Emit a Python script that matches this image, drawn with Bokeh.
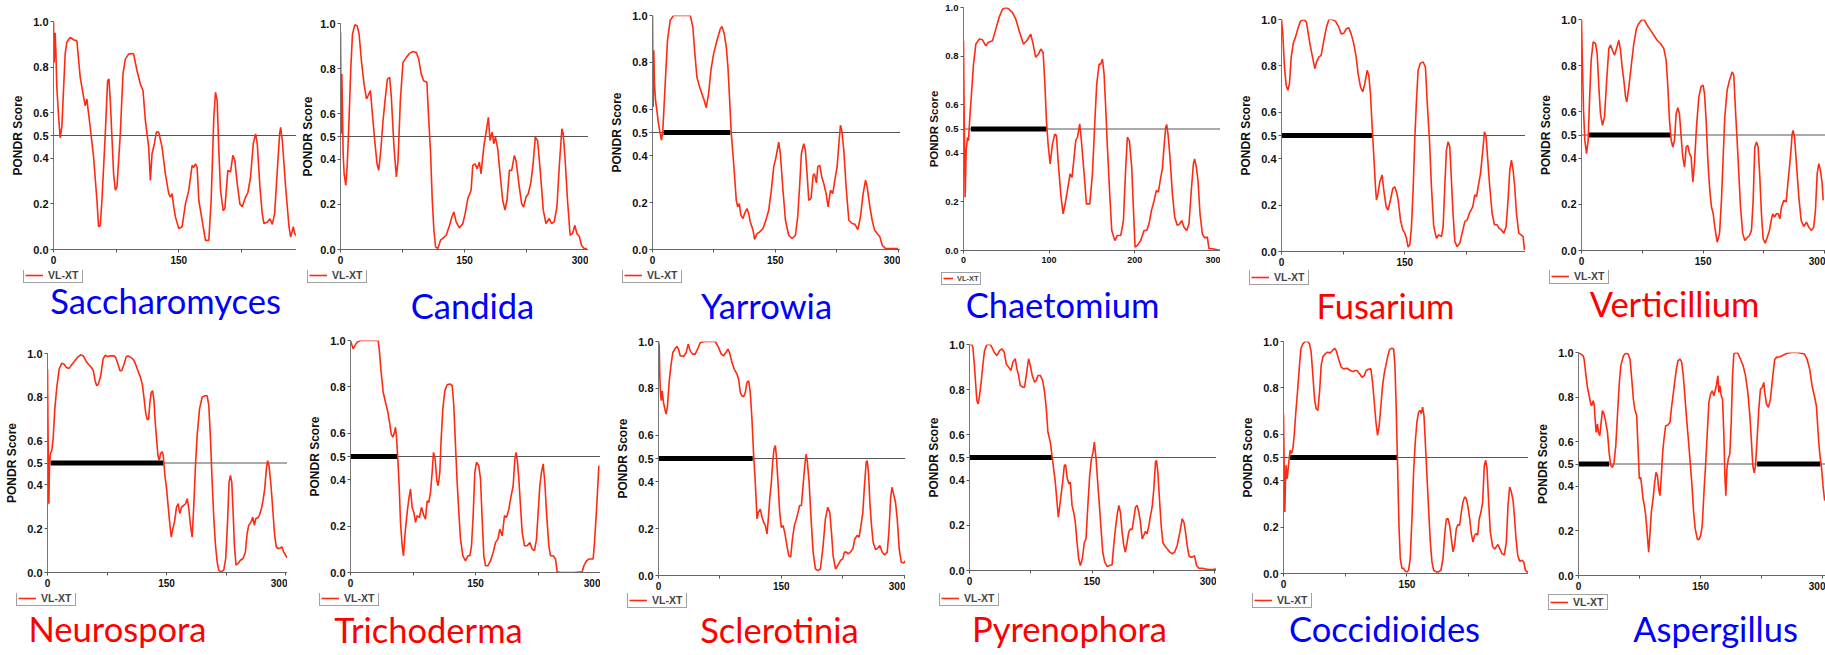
from bokeh.plotting import figure
from bokeh.layouts import column, row
from bokeh.models import FixedTicker, PrintfTickFormatter, Span, Legend, LegendItem, Label
from bokeh.embed import file_html
from bokeh.resources import INLINE

# ---------------- data (residue position, PONDR VL-XT score) ----------------
sacch_x = [0, 0.8, 2, 2.8, 4, 6, 8, 10, 12, 14, 16, 20, 24, 28, 32, 36, 38, 40, 41.2, 44, 48, 52, 54, 56, 58, 62, 64.8, 66.4, 68, 72, 74, 76, 80, 83.2, 86, 90, 94, 96, 100, 104, 107.2, 110, 114, 116, 118, 120.8, 123.2, 126, 130, 134, 138, 140, 142, 144, 146, 150, 154, 158, 162, 166, 168, 170, 172, 174, 178, 182, 186, 188.8, 192, 194, 196, 198, 200, 203.2, 205.2, 208.8, 212, 214.8, 217.2, 220, 223.2, 226, 230, 232.8, 236, 239.2, 242, 244, 247.2, 250, 252, 256, 259.2, 262, 264.8, 268, 270.8, 272, 274, 278, 282, 284, 287.2, 288.8, 292]
sacch_y = [1.0, 0.82, 0.95, 0.87, 0.71, 0.59, 0.49, 0.54, 0.70, 0.86, 0.91, 0.93, 0.92, 0.915, 0.755, 0.67, 0.63, 0.66, 0.62, 0.535, 0.405, 0.216, 0.10, 0.106, 0.216, 0.507, 0.74, 0.748, 0.653, 0.33, 0.26, 0.274, 0.507, 0.77, 0.835, 0.857, 0.86, 0.857, 0.784, 0.726, 0.697, 0.566, 0.449, 0.303, 0.42, 0.464, 0.515, 0.515, 0.449, 0.332, 0.245, 0.23, 0.245, 0.187, 0.143, 0.092, 0.10, 0.20, 0.26, 0.369, 0.36, 0.376, 0.36, 0.216, 0.128, 0.04, 0.04, 0.216, 0.58, 0.69, 0.653, 0.434, 0.26, 0.17, 0.18, 0.347, 0.34, 0.413, 0.39, 0.289, 0.20, 0.187, 0.23, 0.25, 0.318, 0.464, 0.507, 0.464, 0.274, 0.157, 0.114, 0.12, 0.135, 0.11, 0.157, 0.347, 0.507, 0.536, 0.478, 0.274, 0.10, 0.055, 0.10, 0.07, 0.055]

cand_x = [0, 0.8, 1.6, 2.4, 3.2, 4.4, 6.4, 8, 10, 12.5, 14.5, 17.3, 20.1, 22.5, 25.3, 28.5, 31.4, 33.4, 36.2, 38.2, 41.4, 44.2, 46.2, 48.7, 51.5, 54.3, 56.7, 59.5, 61.5, 64.7, 67.6, 69.6, 72.4, 75.6, 79.6, 83.6, 87.7, 91.7, 94.5, 97.7, 100.5, 104.5, 106.6, 109, 111, 113, 115, 117.8, 121, 123.8, 127.9, 131.9, 134.7, 137.1, 139.9, 143.9, 148, 150.8, 154, 158, 160, 162.8, 165.3, 168, 170, 173.3, 176.1, 178.9, 180.9, 183.4, 185.4, 187.4, 190.2, 193, 196.2, 199, 201.4, 204.3, 207.1, 210.3, 212.3, 216.3, 219.1, 221.5, 224.4, 227.2, 230.4, 233.2, 235.6, 238.4, 241.6, 245.3, 248.5, 252.5, 255.3, 258.5, 261.8, 264.6, 267.8, 269.4, 271.8, 274.6, 277.8, 280.7, 283.5, 285.9, 289.1, 291.5, 294.7, 298]
cand_y = [0.96, 0.512, 0.776, 0.615, 0.424, 0.335, 0.284, 0.365, 0.541, 0.806, 0.953, 0.994, 0.99, 0.953, 0.835, 0.732, 0.666, 0.681, 0.703, 0.615, 0.482, 0.379, 0.35, 0.438, 0.571, 0.674, 0.754, 0.762, 0.674, 0.453, 0.321, 0.394, 0.659, 0.828, 0.85, 0.868, 0.876, 0.872, 0.843, 0.776, 0.747, 0.74, 0.585, 0.424, 0.218, 0.085, 0.012, 0.004, 0.041, 0.049, 0.063, 0.107, 0.144, 0.166, 0.122, 0.096, 0.115, 0.159, 0.225, 0.262, 0.372, 0.379, 0.357, 0.387, 0.335, 0.453, 0.519, 0.585, 0.482, 0.519, 0.468, 0.497, 0.446, 0.335, 0.218, 0.174, 0.218, 0.35, 0.35, 0.416, 0.394, 0.276, 0.203, 0.188, 0.232, 0.247, 0.299, 0.387, 0.497, 0.482, 0.35, 0.174, 0.115, 0.137, 0.115, 0.122, 0.188, 0.365, 0.534, 0.512, 0.394, 0.218, 0.063, 0.071, 0.107, 0.071, 0.056, 0.019, 0.004, 0.004]

yarr_x = [0, 0.8, 1.6, 2.4, 3.7, 5.3, 7.3, 9.4, 11, 12.6, 15.5, 18.3, 21.6, 25.7, 31.8, 40, 46.1, 49.3, 51.4, 54.2, 57.5, 60.3, 63.2, 65.6, 68.5, 71.3, 74.6, 78.7, 82.8, 84.8, 87.6, 90.1, 92.1, 94.2, 96.2, 98.2, 100.3, 102.3, 104, 106, 108, 110.5, 112.5, 115.4, 117.4, 119.4, 122.7, 124.7, 127.6, 130.9, 134.9, 137.8, 141.9, 145.1, 148, 150.8, 154.1, 156.1, 159, 162.3, 166.3, 170.4, 174.5, 177.3, 179.8, 181.8, 184.7, 186.7, 188.7, 190.8, 193.6, 196.1, 197.7, 200.2, 201.8, 204.2, 206.7, 209.1, 212, 214.4, 217.3, 220.1, 222.6, 225.4, 227.9, 229.5, 231.1, 233.6, 236.4, 239.7, 243.8, 247, 250.7, 253.9, 257.2, 260.1, 262.1, 265.4, 268.2, 271.1, 274.3, 277.6, 280.5, 284.6, 290.7, 300]
yarr_y = [1.0, 0.609, 0.851, 0.708, 0.637, 0.595, 0.538, 0.495, 0.467, 0.509, 0.708, 0.893, 0.979, 1.0, 1.0, 1.0, 1.0, 0.95, 0.851, 0.737, 0.694, 0.666, 0.637, 0.606, 0.666, 0.765, 0.836, 0.893, 0.943, 0.953, 0.922, 0.865, 0.78, 0.637, 0.495, 0.41, 0.31, 0.21, 0.182, 0.196, 0.146, 0.132, 0.154, 0.175, 0.154, 0.118, 0.083, 0.043, 0.068, 0.075, 0.09, 0.118, 0.168, 0.253, 0.353, 0.395, 0.459, 0.41, 0.267, 0.125, 0.061, 0.047, 0.061, 0.139, 0.282, 0.41, 0.452, 0.424, 0.324, 0.21, 0.218, 0.317, 0.324, 0.284, 0.353, 0.36, 0.31, 0.282, 0.239, 0.182, 0.253, 0.239, 0.296, 0.353, 0.467, 0.531, 0.509, 0.424, 0.267, 0.125, 0.111, 0.108, 0.085, 0.139, 0.239, 0.296, 0.267, 0.182, 0.125, 0.083, 0.068, 0.054, 0.018, 0.004, 0.004, 0.004]
yarr_bar_start = [13.5]
yarr_bar_end = [95]

chae_x = [0, 0.8, 1.9, 3.1, 4.7, 5.8, 7.4, 9.3, 11.7, 14.4, 18.3, 22.2, 26.1, 28.8, 33.9, 37.7, 41.6, 45.5, 49.4, 53.3, 57.2, 61.1, 65, 70, 73.9, 78.6, 81.3, 84.4, 87.5, 90.3, 93, 94.9, 96.9, 98.8, 101.2, 103.9, 106.6, 108.6, 110.5, 113.6, 116.3, 118.7, 121.4, 124.5, 126.8, 129.2, 131.1, 133.1, 135.8, 137.7, 140.9, 143.6, 147.5, 150.6, 153.3, 155.6, 158.4, 160.3, 162.3, 164.2, 166.1, 168.1, 170.8, 173.2, 176.7, 179.8, 183.7, 186.8, 189.5, 191.4, 193.8, 196.5, 198.4, 200.4, 203.1, 207, 210.9, 214, 216.7, 219.5, 222.6, 225.3, 227.6, 230.4, 232.3, 234.2, 236.2, 237.4, 238.9, 241.2, 244, 246.7, 249.8, 252.5, 254.9, 257.6, 260.7, 263.4, 266.1, 268.5, 270, 272, 273.9, 276.3, 279, 281.7, 284.8, 286.8, 290.7, 300]
chae_y = [0.863, 0.548, 0.219, 0.411, 0.466, 0.452, 0.548, 0.644, 0.767, 0.849, 0.87, 0.867, 0.842, 0.856, 0.863, 0.911, 0.959, 0.993, 1.0, 0.993, 0.979, 0.952, 0.904, 0.849, 0.863, 0.89, 0.849, 0.795, 0.808, 0.829, 0.815, 0.699, 0.534, 0.438, 0.356, 0.438, 0.479, 0.473, 0.37, 0.233, 0.151, 0.192, 0.247, 0.315, 0.301, 0.384, 0.452, 0.466, 0.521, 0.452, 0.315, 0.192, 0.192, 0.315, 0.521, 0.685, 0.767, 0.767, 0.788, 0.726, 0.589, 0.425, 0.233, 0.082, 0.041, 0.062, 0.062, 0.123, 0.342, 0.466, 0.452, 0.342, 0.178, 0.014, 0.021, 0.041, 0.082, 0.082, 0.11, 0.164, 0.205, 0.247, 0.24, 0.301, 0.336, 0.425, 0.507, 0.518, 0.479, 0.384, 0.233, 0.137, 0.103, 0.11, 0.123, 0.096, 0.082, 0.11, 0.247, 0.356, 0.377, 0.342, 0.288, 0.151, 0.068, 0.052, 0.055, 0.007, 0.007, 0.0]
chae_bar_start = [8.6]
chae_bar_end = [97]

fusa_x = [0, 1.6, 3.6, 5.7, 7.7, 9.7, 11.8, 14.2, 17, 19.9, 23.1, 27.2, 30.4, 33.2, 35.3, 38.1, 40.5, 42.6, 45.4, 48.2, 51.5, 54.7, 57.6, 61.6, 65.7, 69.7, 72.6, 75.8, 79, 81.9, 84.7, 88, 90.8, 93.2, 96.1, 98.9, 101.3, 104.2, 106.2, 108.2, 110.3, 112.3, 114.3, 115.5, 117.1, 119.6, 122.4, 124.4, 127.3, 129.7, 132.5, 135.4, 137.8, 139.8, 141.9, 144.7, 147.6, 150, 152, 154, 156.1, 158.1, 160.1, 162.1, 164.2, 166.2, 169, 172.3, 175.1, 177.1, 180, 182.4, 185.2, 188.5, 191.3, 194.6, 196.6, 198.6, 200.6, 202.7, 204.7, 206.3, 208.4, 210.8, 213.6, 216.9, 219.7, 223, 225.8, 228.6, 230.7, 232.7, 235.1, 237.2, 239.2, 242.1, 244.9, 246.9, 248.9, 250.9, 253.3, 256.2, 259, 262.3, 264.7, 267.5, 270.4, 273.2, 275.6, 277.7, 279.7, 281.7, 283.7, 285.8, 288.6, 291.4, 293.9, 295.5]
fusa_y = [1.0, 0.938, 0.795, 0.716, 0.695, 0.723, 0.838, 0.895, 0.924, 0.96, 0.993, 1.0, 0.989, 0.924, 0.881, 0.831, 0.788, 0.817, 0.838, 0.845, 0.91, 0.967, 1.0, 1.0, 0.993, 0.967, 0.938, 0.941, 0.96, 0.964, 0.938, 0.895, 0.838, 0.766, 0.709, 0.688, 0.723, 0.781, 0.759, 0.681, 0.537, 0.408, 0.279, 0.222, 0.244, 0.301, 0.33, 0.265, 0.193, 0.179, 0.222, 0.272, 0.279, 0.258, 0.222, 0.136, 0.093, 0.079, 0.057, 0.019, 0.029, 0.107, 0.265, 0.48, 0.652, 0.781, 0.812, 0.817, 0.795, 0.652, 0.48, 0.279, 0.107, 0.057, 0.072, 0.064, 0.107, 0.279, 0.437, 0.473, 0.451, 0.337, 0.179, 0.043, 0.021, 0.036, 0.079, 0.129, 0.136, 0.165, 0.179, 0.193, 0.244, 0.236, 0.279, 0.337, 0.437, 0.516, 0.494, 0.394, 0.279, 0.165, 0.115, 0.115, 0.1, 0.093, 0.079, 0.107, 0.222, 0.351, 0.394, 0.351, 0.279, 0.165, 0.079, 0.072, 0.064, 0.007]
fusa_bar_start = [0]
fusa_bar_end = [110]

vert_x = [0, 1.2, 2.5, 4.1, 6.2, 8.2, 9.9, 11.9, 14.4, 17.3, 19.3, 21.4, 23.4, 25.9, 28.4, 30.8, 33.7, 35.8, 38.2, 40.7, 43.2, 46, 48.1, 50.1, 52.2, 54.3, 55.9, 58.4, 61.2, 64.5, 67.8, 70.7, 74.8, 77.7, 81, 85.1, 89.2, 93.3, 97.4, 101.5, 104.4, 106.5, 108.5, 110.6, 112.6, 114.7, 116.7, 118.8, 120.8, 122.9, 124.9, 127, 129.1, 131.1, 133.2, 135.2, 137.3, 139.3, 141.8, 144.7, 147.6, 150, 151.7, 153.7, 155.8, 158.2, 160.3, 162.4, 164.4, 167.3, 170.2, 172.6, 174.7, 176.7, 179.6, 182.5, 185.8, 187.8, 189.9, 191.9, 194, 196.1, 198.9, 201.4, 204.3, 207.1, 209.6, 211.7, 213.7, 215.8, 217.8, 219.9, 221.9, 224, 226.5, 228.9, 231.8, 233.9, 235.9, 238, 240.4, 242.5, 244.6, 246.6, 249.5, 252.4, 254.8, 257.7, 259.8, 261, 262.7, 265.1, 268, 270.9, 274.1, 277.4, 280.3, 283.6, 286.4, 288.5, 290.6, 292.6, 294.7, 296.8, 298]
vert_y = [1.0, 0.795, 0.607, 0.477, 0.419, 0.477, 0.65, 0.824, 0.903, 0.896, 0.853, 0.708, 0.592, 0.542, 0.578, 0.723, 0.874, 0.889, 0.867, 0.845, 0.874, 0.91, 0.867, 0.795, 0.737, 0.665, 0.643, 0.708, 0.795, 0.896, 0.961, 0.983, 1.0, 0.997, 0.975, 0.954, 0.932, 0.91, 0.896, 0.874, 0.824, 0.708, 0.564, 0.477, 0.448, 0.477, 0.592, 0.618, 0.592, 0.491, 0.405, 0.361, 0.448, 0.455, 0.419, 0.405, 0.296, 0.376, 0.535, 0.665, 0.711, 0.715, 0.679, 0.564, 0.39, 0.26, 0.188, 0.159, 0.101, 0.036, 0.072, 0.217, 0.405, 0.578, 0.694, 0.737, 0.773, 0.759, 0.607, 0.477, 0.332, 0.188, 0.072, 0.043, 0.055, 0.065, 0.087, 0.217, 0.448, 0.47, 0.448, 0.318, 0.159, 0.051, 0.032, 0.055, 0.087, 0.13, 0.159, 0.145, 0.159, 0.159, 0.137, 0.188, 0.217, 0.21, 0.303, 0.405, 0.506, 0.52, 0.491, 0.376, 0.231, 0.13, 0.104, 0.123, 0.101, 0.087, 0.101, 0.173, 0.332, 0.376, 0.347, 0.289, 0.217]
vert_bar_start = [9]
vert_bar_end = [110]

neur_x = [0, 0.8, 1.7, 2.5, 3.4, 4.2, 5.4, 7.1, 9.2, 11.7, 14.7, 18, 20.9, 23.9, 27.2, 30.2, 33.5, 37.7, 41.9, 45.2, 48.2, 51.5, 55.3, 57.8, 59.9, 62, 64.1, 67, 70, 72.5, 75.4, 79.6, 83.8, 85.9, 88.8, 91.3, 93.4, 96.4, 99.3, 101.8, 104.7, 107.7, 110.2, 113.1, 116.5, 119.4, 121.5, 123.6, 125.7, 127.4, 129, 130.7, 132.4, 134.1, 135.7, 137.4, 139.1, 140.8, 142.4, 144.1, 145.8, 147.9, 150, 151.7, 153.8, 155.8, 157.9, 160, 162.5, 164.6, 166.7, 168.8, 171.8, 173.9, 176, 178, 180.1, 182.2, 184.3, 186.4, 188.5, 191.5, 194.8, 198.2, 201.1, 203.2, 205.3, 207.4, 209.5, 211.6, 213.7, 215.7, 218.7, 222, 224.5, 226.6, 228.7, 230.4, 232.1, 233.8, 235.4, 237.5, 240, 243, 246.3, 249.3, 251.4, 253.5, 256.4, 258.5, 260.6, 262.3, 264.8, 266.9, 269.4, 271.5, 273.6, 275.7, 277.3, 279, 281.5, 284, 286.1, 288.2, 290.3, 293.3, 295.4, 297.4, 299.5, 301.6]
neur_y = [0.929, 0.595, 0.314, 0.489, 0.534, 0.549, 0.557, 0.61, 0.747, 0.845, 0.929, 0.956, 0.951, 0.936, 0.932, 0.947, 0.962, 0.982, 0.994, 0.989, 0.967, 0.951, 0.936, 0.921, 0.876, 0.853, 0.86, 0.898, 0.974, 0.992, 0.986, 0.989, 0.989, 0.982, 0.951, 0.921, 0.921, 0.951, 0.986, 0.989, 0.982, 0.974, 0.959, 0.929, 0.898, 0.86, 0.8, 0.731, 0.697, 0.701, 0.777, 0.822, 0.83, 0.785, 0.686, 0.61, 0.534, 0.511, 0.542, 0.552, 0.534, 0.443, 0.382, 0.314, 0.231, 0.162, 0.2, 0.231, 0.299, 0.314, 0.269, 0.299, 0.307, 0.314, 0.337, 0.291, 0.215, 0.162, 0.307, 0.489, 0.625, 0.747, 0.8, 0.807, 0.807, 0.762, 0.61, 0.413, 0.246, 0.124, 0.049, 0.011, 0.003, 0.011, 0.064, 0.215, 0.413, 0.443, 0.413, 0.276, 0.124, 0.033, 0.041, 0.056, 0.064, 0.094, 0.178, 0.215, 0.231, 0.253, 0.215, 0.246, 0.249, 0.261, 0.291, 0.329, 0.382, 0.473, 0.511, 0.489, 0.398, 0.276, 0.17, 0.117, 0.109, 0.112, 0.117, 0.094, 0.082, 0.067]
neur_bar_start = [4]
neur_bar_end = [146]

tric_x = [0, 1.2, 3.2, 5.2, 8, 12, 20, 28, 33.2, 34.8, 36.8, 39.2, 42, 44.8, 47.2, 48.8, 50.8, 52.8, 54, 55.2, 56.8, 58.4, 60, 62, 63.6, 65.6, 68, 70, 72, 74, 76, 78, 80, 82.8, 85.2, 88, 90, 92, 94, 96, 98, 99.6, 101.6, 103.6, 105.2, 107.2, 108.8, 110.8, 113.2, 116, 119.2, 122, 124, 126, 128, 130, 132, 134.8, 138, 140.8, 143.2, 145.2, 147.2, 149.2, 151.2, 154, 156, 158, 160, 162, 164.8, 168, 171.2, 174, 176.8, 179.2, 182, 184.8, 187.2, 190, 192.8, 195.2, 197.2, 198.8, 200.4, 202, 204, 206, 208.8, 212, 215.2, 218, 220.8, 223.2, 225.2, 227.2, 229.2, 231.2, 233.2, 235.2, 238, 240, 243.2, 246, 248, 252, 260, 268, 278, 280, 283.2, 286, 288.8, 291.2, 292.8, 294.8, 296.8, 298]
tric_y = [1.0, 0.986, 0.964, 0.978, 0.993, 1.0, 1.0, 1.0, 1.0, 0.95, 0.863, 0.777, 0.734, 0.691, 0.64, 0.597, 0.583, 0.604, 0.626, 0.583, 0.489, 0.374, 0.216, 0.115, 0.072, 0.173, 0.259, 0.317, 0.36, 0.281, 0.259, 0.216, 0.245, 0.237, 0.281, 0.245, 0.23, 0.309, 0.302, 0.345, 0.432, 0.518, 0.489, 0.396, 0.374, 0.432, 0.576, 0.705, 0.784, 0.809, 0.813, 0.806, 0.719, 0.547, 0.388, 0.259, 0.144, 0.072, 0.05, 0.072, 0.072, 0.115, 0.245, 0.432, 0.475, 0.46, 0.403, 0.23, 0.072, 0.029, 0.029, 0.05, 0.086, 0.129, 0.144, 0.187, 0.158, 0.245, 0.237, 0.273, 0.331, 0.374, 0.489, 0.518, 0.475, 0.403, 0.288, 0.173, 0.115, 0.115, 0.129, 0.101, 0.094, 0.144, 0.259, 0.374, 0.432, 0.468, 0.388, 0.259, 0.115, 0.072, 0.072, 0.058, 0.003, 0.0, 0.0, 0.0, 0.003, 0.029, 0.05, 0.058, 0.058, 0.058, 0.129, 0.245, 0.374, 0.46]
tric_bar_start = [0]
tric_bar_end = [56]

scle_x = [0, 0.8, 1.6, 2.4, 3.3, 4.5, 6.1, 8.2, 9.4, 11, 13, 15.1, 17.5, 20.4, 22.4, 24.5, 26.5, 30.6, 33.8, 36.3, 38.7, 41.6, 44.8, 47.7, 51, 57.1, 63.2, 69.3, 73.4, 76.6, 79.5, 82.3, 84.8, 86.8, 89.7, 92.5, 95.8, 97.8, 99.9, 101.9, 104, 106, 108, 110.1, 112.1, 114.1, 116.2, 118.2, 120.3, 121.9, 124.3, 126.4, 128.4, 130.5, 132.5, 134.1, 135.8, 137.8, 139.4, 141.1, 142.7, 143.9, 145.9, 148, 150, 152.1, 154.1, 156.1, 159, 161.4, 163.5, 165.9, 168.4, 170.4, 172.4, 174.5, 176.5, 178.6, 180.2, 181.8, 183.9, 186.3, 188.8, 191.6, 194.5, 197.7, 201, 203.8, 206.7, 209.1, 211.2, 213.2, 216.1, 218.9, 222.2, 225, 227.1, 229.5, 231.5, 234.4, 237.3, 239.7, 242.6, 245, 247.5, 249.5, 251.5, 253.6, 254.8, 256.4, 258.1, 260.1, 262.1, 265, 267, 270.3, 273.1, 276, 279.3, 281.3, 283.4, 285, 287, 289.4, 291.5, 293.9, 296.4, 299.6, 301.7]
scle_y = [1.0, 0.981, 0.853, 0.782, 0.747, 0.789, 0.74, 0.704, 0.69, 0.725, 0.825, 0.896, 0.953, 0.97, 0.979, 0.967, 0.939, 0.936, 0.953, 0.989, 0.96, 0.946, 0.946, 0.967, 0.996, 1.0, 1.0, 1.0, 0.974, 0.946, 0.939, 0.953, 0.967, 0.953, 0.91, 0.882, 0.861, 0.839, 0.782, 0.768, 0.764, 0.782, 0.825, 0.832, 0.782, 0.669, 0.512, 0.398, 0.242, 0.27, 0.284, 0.249, 0.228, 0.213, 0.178, 0.242, 0.327, 0.398, 0.484, 0.541, 0.555, 0.512, 0.398, 0.27, 0.206, 0.213, 0.185, 0.142, 0.085, 0.078, 0.156, 0.213, 0.242, 0.27, 0.299, 0.299, 0.384, 0.469, 0.519, 0.484, 0.398, 0.242, 0.1, 0.028, 0.021, 0.028, 0.128, 0.242, 0.292, 0.27, 0.185, 0.085, 0.028, 0.043, 0.064, 0.071, 0.1, 0.1, 0.092, 0.1, 0.114, 0.156, 0.171, 0.164, 0.22, 0.27, 0.384, 0.484, 0.491, 0.441, 0.313, 0.213, 0.142, 0.111, 0.114, 0.128, 0.1, 0.088, 0.1, 0.185, 0.327, 0.377, 0.349, 0.313, 0.242, 0.114, 0.057, 0.054, 0.064]
scle_bar_start = [0]
scle_bar_end = [115]

pyre_x = [0, 2.9, 4.1, 5.7, 7.4, 9, 10.6, 12.3, 14.3, 16.3, 18.4, 21.3, 25.3, 27.4, 30.2, 33.5, 36.8, 39.6, 42.5, 45, 47.8, 50.7, 53.1, 56, 58, 60.1, 62.1, 65, 67.4, 69.5, 72.3, 74.4, 76.8, 79.7, 81.7, 83.8, 86.6, 89.5, 91.9, 94, 96, 98.9, 100.9, 103, 105, 107.1, 108.7, 110.3, 112, 114, 116.1, 117.7, 119.7, 121.8, 123.4, 125.5, 127.5, 129.5, 131.6, 133.6, 135.7, 138.1, 140.6, 142.6, 145.1, 147.1, 149.2, 151.2, 152.8, 154.9, 156.9, 159, 161, 163.1, 165.5, 168.4, 171.6, 174.5, 176.5, 178.6, 180.6, 182.7, 184.7, 186.8, 188.8, 190.8, 192.9, 194.9, 197, 199, 201.1, 203.1, 205.2, 207.2, 209.2, 211.3, 213.3, 215.4, 217.4, 219.5, 221.5, 223.5, 225.6, 227.6, 228.8, 230.5, 232.5, 234.6, 236.6, 238.7, 241.9, 245.2, 248.1, 251, 254.2, 257.5, 260.3, 262.4, 264.4, 266.4, 268.5, 270.5, 272.6, 275.4, 277.9, 280.7, 284.8, 288.9, 293, 297.1, 302.4]
pyre_y = [1.0, 1.0, 0.988, 0.922, 0.833, 0.752, 0.737, 0.774, 0.833, 0.907, 0.973, 1.0, 1.0, 0.988, 0.966, 0.951, 0.973, 0.981, 0.966, 0.914, 0.9, 0.885, 0.922, 0.937, 0.892, 0.863, 0.819, 0.811, 0.811, 0.863, 0.937, 0.907, 0.863, 0.833, 0.841, 0.863, 0.863, 0.841, 0.789, 0.715, 0.612, 0.568, 0.509, 0.45, 0.391, 0.302, 0.236, 0.28, 0.332, 0.391, 0.465, 0.468, 0.406, 0.383, 0.391, 0.288, 0.258, 0.214, 0.125, 0.052, 0.022, 0.052, 0.125, 0.14, 0.302, 0.42, 0.494, 0.524, 0.568, 0.494, 0.391, 0.288, 0.184, 0.081, 0.037, 0.018, 0.022, 0.025, 0.111, 0.184, 0.243, 0.288, 0.258, 0.17, 0.111, 0.081, 0.125, 0.17, 0.184, 0.181, 0.229, 0.28, 0.288, 0.258, 0.214, 0.14, 0.155, 0.173, 0.162, 0.199, 0.243, 0.28, 0.361, 0.479, 0.487, 0.435, 0.317, 0.199, 0.125, 0.111, 0.096, 0.081, 0.074, 0.081, 0.111, 0.17, 0.229, 0.214, 0.17, 0.111, 0.066, 0.059, 0.059, 0.066, 0.022, 0.01, 0.01, 0.007, 0.004, 0.004, 0.007]
pyre_bar_start = [0]
pyre_bar_end = [101]

cocc_x = [0, 0.8, 1.6, 2.4, 3.2, 4.5, 5.7, 6.9, 8.1, 9.7, 11.4, 13, 15, 17, 19.1, 21.1, 23.5, 26.3, 29.2, 31.6, 33.6, 35.7, 37.7, 39.7, 41.8, 43.8, 45.8, 47.8, 50.7, 53.5, 56.7, 59.6, 62, 64, 66.9, 70.1, 73, 77, 81.1, 84.3, 87.2, 89.2, 92.4, 95.3, 98.1, 100.5, 103.4, 106.2, 108.2, 110.3, 112.3, 114.3, 116.3, 118.4, 120.4, 122.4, 124.4, 126.9, 128.9, 131.7, 133.8, 135.4, 137, 138.6, 140.3, 141.9, 143.9, 145.9, 148, 150, 152, 154, 156.1, 158.1, 160.1, 162.1, 164.2, 166.2, 167.4, 169, 170.7, 172.3, 174.3, 176.3, 178.4, 180.4, 182.4, 185.6, 188.5, 191.3, 193.8, 195.8, 197.8, 199.8, 201.9, 203.9, 205.9, 207.9, 210, 212, 214, 216.1, 218.1, 220.1, 222.1, 224.2, 226.2, 228.2, 230.2, 232.3, 234.3, 235.9, 237.9, 240, 242, 244, 245.7, 247.3, 249.3, 251.3, 254.2, 256.6, 258.6, 260.6, 262.7, 265.5, 268.3, 270.8, 272.8, 274.8, 276.8, 278.9, 280.5, 282.5, 284.6, 287, 289.9, 291.9, 293.9, 295.9, 297.9]
cocc_y = [0.689, 0.466, 0.265, 0.395, 0.466, 0.409, 0.452, 0.495, 0.531, 0.517, 0.538, 0.595, 0.696, 0.782, 0.882, 0.968, 0.99, 1.0, 1.0, 0.99, 0.954, 0.854, 0.753, 0.71, 0.703, 0.782, 0.897, 0.933, 0.947, 0.954, 0.951, 0.961, 0.971, 0.961, 0.925, 0.89, 0.882, 0.885, 0.875, 0.871, 0.875, 0.875, 0.861, 0.846, 0.853, 0.875, 0.88, 0.882, 0.825, 0.739, 0.653, 0.595, 0.638, 0.725, 0.811, 0.861, 0.897, 0.94, 0.966, 0.971, 0.968, 0.897, 0.71, 0.466, 0.208, 0.065, 0.022, 0.022, 0.01, 0.007, 0.014, 0.065, 0.237, 0.438, 0.567, 0.653, 0.696, 0.703, 0.689, 0.717, 0.681, 0.567, 0.423, 0.28, 0.136, 0.05, 0.014, 0.007, 0.007, 0.014, 0.065, 0.165, 0.234, 0.237, 0.208, 0.151, 0.093, 0.122, 0.194, 0.211, 0.208, 0.265, 0.308, 0.33, 0.323, 0.287, 0.237, 0.172, 0.136, 0.165, 0.172, 0.165, 0.237, 0.265, 0.308, 0.466, 0.488, 0.452, 0.308, 0.179, 0.115, 0.105, 0.115, 0.125, 0.108, 0.086, 0.079, 0.136, 0.294, 0.373, 0.352, 0.316, 0.251, 0.151, 0.079, 0.053, 0.057, 0.05, 0.014, 0.007, 0.007]
cocc_bar_start = [8]
cocc_bar_end = [138]

aspe_x = [0, 2.9, 5.7, 6.9, 9, 11, 13.1, 15.1, 16.3, 18, 19.2, 20.4, 21.7, 23.3, 24.5, 26.2, 27.4, 29.4, 31.5, 33.5, 35.6, 37.6, 39.6, 41.7, 43.7, 45.8, 47.8, 49.9, 51.9, 55.2, 58, 60.9, 63.3, 65.4, 67.4, 69.1, 71.5, 73.2, 74.8, 76.4, 77.6, 79.3, 80.9, 82.6, 84.6, 86.2, 87.9, 89.5, 92, 93.6, 95.2, 96.9, 98.5, 100.1, 101.8, 103.4, 105, 107.1, 109.9, 112.4, 114, 116.1, 118.1, 120.2, 122.2, 124.6, 126.7, 128.7, 130.8, 132.8, 134.9, 136.9, 139.4, 141.4, 143.4, 145.9, 147.9, 150, 152, 154.1, 156.1, 158.2, 160.2, 162.2, 164.3, 166.3, 168.4, 169.6, 171.2, 172.4, 173.7, 175.3, 176.9, 178.6, 179.8, 181, 182.3, 183.9, 185.9, 187.6, 189.2, 190.8, 192.9, 195.7, 199, 202.3, 205.1, 208, 210.5, 212.5, 214.1, 215.8, 217.4, 219.4, 221.5, 223.5, 225.6, 227.6, 228.8, 230.9, 233.3, 235.8, 238.7, 241.1, 243.2, 247.2, 251.3, 256.2, 262.4, 268.5, 273.4, 277.5, 280.8, 284, 286.9, 289.7, 292.2, 293.8, 295.4, 297.1, 298.7, 300.3, 302.4]
aspe_y = [1.0, 0.993, 0.985, 0.97, 0.903, 0.843, 0.806, 0.769, 0.761, 0.784, 0.769, 0.701, 0.642, 0.679, 0.642, 0.627, 0.672, 0.739, 0.724, 0.687, 0.642, 0.552, 0.493, 0.485, 0.507, 0.582, 0.716, 0.851, 0.94, 0.985, 0.997, 0.993, 0.97, 0.881, 0.791, 0.746, 0.716, 0.567, 0.433, 0.44, 0.403, 0.343, 0.313, 0.269, 0.179, 0.104, 0.194, 0.284, 0.358, 0.418, 0.463, 0.448, 0.388, 0.358, 0.448, 0.552, 0.612, 0.672, 0.675, 0.687, 0.746, 0.806, 0.866, 0.925, 0.963, 0.97, 0.958, 0.896, 0.799, 0.701, 0.612, 0.522, 0.403, 0.284, 0.209, 0.164, 0.16, 0.179, 0.224, 0.373, 0.493, 0.642, 0.776, 0.813, 0.828, 0.806, 0.836, 0.858, 0.896, 0.821, 0.851, 0.806, 0.791, 0.627, 0.448, 0.358, 0.478, 0.522, 0.545, 0.687, 0.896, 0.993, 1.0, 0.997, 0.97, 0.94, 0.896, 0.821, 0.716, 0.597, 0.493, 0.46, 0.493, 0.612, 0.746, 0.836, 0.843, 0.866, 0.821, 0.769, 0.754, 0.791, 0.896, 0.97, 0.978, 0.981, 0.988, 0.997, 1.0, 1.0, 0.997, 0.993, 0.97, 0.925, 0.851, 0.806, 0.761, 0.672, 0.582, 0.522, 0.478, 0.403, 0.336]
aspe_bar_start = [0, 219.4]
aspe_bar_end = [37.6, 297]

# ---------------- styles / layout ----------------
LINE_RED = "#FF2A12"
BLUE = "#0000FF"
RED = "#FF0000"
Y_TICKS = [0, 0.2, 0.4, 0.5, 0.6, 0.8, 1.0]
X_TICKS = [0, 150, 300]
X_MINOR = [75, 225]
X_TICKS_C = [0, 100, 200, 300]
PAGE_W = 1825
ROWS = [dict(main_h=270, total_h=325), dict(main_h=268, total_h=330)]

row1_cfg = [
    dict(name="Saccharomyces", color=BLUE, x=sacch_x, y=sacch_y, b0=[], b1=[], w=296, bl=53, T=21, B=249, xend=291, leg=(23, 42), tit=(165, 25.5)),
    dict(name="Candida", color=BLUE, x=cand_x, y=cand_y, b0=[], b1=[], w=292, bl=44, T=23, B=249, xend=300, leg=(307, 42), tit=(472, 20.5), als=2),
    dict(name="Yarrowia", color=BLUE, x=yarr_x, y=yarr_y, b0=yarr_bar_start, b1=yarr_bar_end, w=312, bl=64, T=15, B=249, xend=302.8, leg=(622, 42), tit=(766, 20)),
    dict(name="Chaetomium", color=BLUE, x=chae_x, y=chae_y, b0=chae_bar_start, b1=chae_bar_end, w=320, bl=63, T=7, B=250, xend=300.2, leg=(941, 40.5), tit=(1062, 21), small=True),
    dict(name="Fusarium", color=RED, x=fusa_x, y=fusa_y, b0=fusa_bar_start, b1=fusa_bar_end, w=305, bl=61, T=19, B=251, xend=296.8, leg=(1249, 40.5), tit=(1385, 20)),
    dict(name="Verticillium", color=RED, x=vert_x, y=vert_y, b0=vert_bar_start, b1=vert_bar_end, w=300, bl=56, T=19, B=250, xend=300.9, leg=(1549, 41), tit=(1674, 22.5)),
]
row2_cfg = [
    dict(name="Neurospora", color=RED, x=neur_x, y=neur_y, b0=neur_bar_start, b1=neur_bar_end, w=287, bl=47, T=28, B=247, xend=302.3, leg=(16, 49), tit=(117, 27.5)),
    dict(name="Trichoderma", color=RED, x=tric_x, y=tric_y, b0=tric_bar_start, b1=tric_bar_end, w=313, bl=63, T=15, B=247, xend=300, leg=(319, 49), tit=(428, 26)),
    dict(name="Sclerotinia", color=RED, x=scle_x, y=scle_y, b0=scle_bar_start, b1=scle_bar_end, w=305, bl=58, T=16, B=250, xend=301.6, leg=(627, 47.5), tit=(779, 26)),
    dict(name="Pyrenophora", color=RED, x=pyre_x, y=pyre_y, b0=pyre_bar_start, b1=pyre_bar_end, w=311, bl=64, T=19, B=245, xend=302.3, leg=(939, 49), tit=(1069, 27.5)),
    dict(name="Coccidioides", color=BLUE, x=cocc_x, y=cocc_y, b0=cocc_bar_start, b1=cocc_bar_end, w=312, bl=67, T=16, B=248, xend=297.7, leg=(1252, 47), tit=(1384, 27.5)),
    dict(name="Aspergillus", color=BLUE, x=aspe_x, y=aspe_y, b0=aspe_bar_start, b1=aspe_bar_end, w=297, bl=50, T=27, B=250, xend=303.4, leg=(1548, 45.5), tit=(1715, 27.5)),
]


def build_main(cfg, main_h):
    small = cfg.get("small", False)
    p = figure(width=cfg["w"], height=main_h, x_range=(0, cfg["xend"]), y_range=(0, 1),
               output_backend="svg", toolbar_location=None, title=None,
               min_border_left=cfg["bl"], min_border_right=0,
               min_border_top=cfg["T"], min_border_bottom=main_h - cfg["B"])
    p.outline_line_color = None
    p.xgrid.visible = False
    p.ygrid.visible = False

    xa = p.xaxis[0]
    xa.ticker = FixedTicker(ticks=X_TICKS_C if small else X_TICKS, minor_ticks=[] if small else X_MINOR)
    xa.major_label_text_font = "Liberation Sans"
    xa.major_label_text_font_style = "bold"
    xa.major_label_text_font_size = "9px" if small else "10px"
    xa.major_label_text_color = "#111111"
    xa.major_tick_in = 0
    xa.major_tick_out = 3
    xa.minor_tick_in = 0
    xa.minor_tick_out = 3
    xa.major_label_standoff = 3
    xa.axis_line_color = "#666666"
    xa.major_tick_line_color = "#555555"
    xa.minor_tick_line_color = "#555555"

    ya = p.yaxis[0]
    ya.ticker = FixedTicker(ticks=Y_TICKS)
    ya.formatter = PrintfTickFormatter(format="%.1f")
    ya.major_label_text_font = "Liberation Sans"
    ya.major_label_text_font_style = "bold"
    ya.major_label_text_font_size = "9.5px" if small else "11px"
    ya.major_label_text_color = "#111111"
    ya.major_tick_in = 0
    ya.major_tick_out = 3
    ya.minor_tick_line_color = None
    ya.major_label_standoff = 2
    ya.axis_line_color = "#777777"
    ya.major_tick_line_color = "#555555"
    ya.axis_label = "PONDR Score"
    ya.axis_label_text_font = "Liberation Sans"
    ya.axis_label_text_font_style = "bold"
    ya.axis_label_text_font_size = "11.5px" if small else "12px"
    ya.axis_label_text_color = "#111111"
    ya.axis_label_standoff = cfg.get("als", 2 if small else 5)

    p.add_layout(Span(location=0.5, dimension="width", line_color="#555555", line_width=1, level="underlay"))
    if cfg["b0"]:
        p.segment(x0=cfg["b0"], y0=[0.5] * len(cfg["b0"]), x1=cfg["b1"], y1=[0.5] * len(cfg["b1"]),
                  line_color="black", line_width=5)
    p.line(cfg["x"], cfg["y"], line_color=LINE_RED, line_width=1.6)
    return p


def build_footer(cfgs, foot_h):
    f = figure(width=PAGE_W, height=foot_h, x_range=(0, 1), y_range=(0, 1),
               x_axis_type=None, y_axis_type=None, output_backend="svg",
               toolbar_location=None, title=None, min_border=0)
    f.outline_line_color = None
    f.xgrid.visible = False
    f.ygrid.visible = False
    # legend key proxy: carries the VL-XT line style, draws nothing itself
    key = f.line(x=[float("nan")], y=[float("nan")], line_color=LINE_RED, line_width=1.6)
    for cfg in cfgs:
        small = cfg.get("small", False)
        legend = Legend(items=[LegendItem(label="VL-XT", renderers=[key])],
                        location=cfg["leg"],
                        label_text_font="Liberation Sans", label_text_font_style="bold",
                        label_text_font_size="7.5px" if small else "10.5px",
                        glyph_width=10 if small else 18, glyph_height=6 if small else 8,
                        label_height=6 if small else 8, label_width=22 if small else 33,
                        label_standoff=4 if small else 5, padding=1, spacing=0, margin=0,
                        border_line_color="#444444", border_line_width=1,
                        background_fill_color="white", background_fill_alpha=1.0)
        f.add_layout(legend)
        f.add_layout(Label(x=cfg["tit"][0], y=cfg["tit"][1], x_units="screen", y_units="screen",
                           text=cfg["name"], text_align="center", text_baseline="alphabetic",
                           text_font="Lato", text_font_size="34.5px", text_color=cfg["color"]))
    return f


parts = []
for cfgs, r in ((row1_cfg, ROWS[0]), (row2_cfg, ROWS[1])):
    parts.append(row(*[column(build_main(c, r["main_h"])) for c in cfgs]))
    parts.append(build_footer(cfgs, r["total_h"] - r["main_h"]))
layout = column(*parts)

with open("out.html", "w") as fh_:
    fh_.write(file_html(layout, INLINE, title="PONDR VL-XT disorder profiles"))
